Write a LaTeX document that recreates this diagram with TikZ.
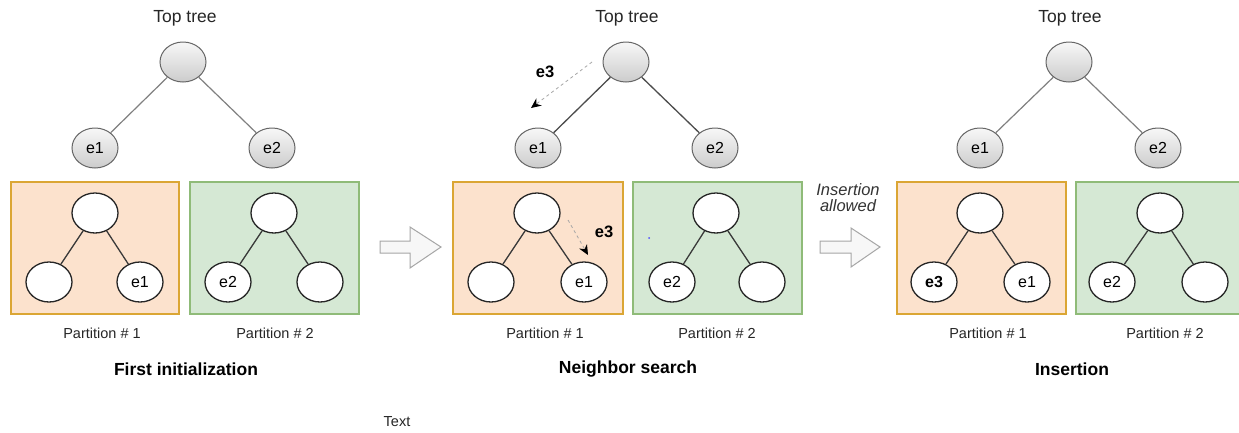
\documentclass[tikz,border=0pt]{standalone}
\usepackage{fontspec}
\setmainfont{Liberation Sans}
\usetikzlibrary{shapes.geometric,arrows.meta}
\definecolor{oFill}{HTML}{FCE2CD}
\definecolor{oLine}{HTML}{DBA634}
\definecolor{gFill}{HTML}{D5E8D4}
\definecolor{gLine}{HTML}{8FBB78}
\definecolor{tEdge}{HTML}{808080}
\definecolor{pEdge}{HTML}{3A3A3A}
\tikzset{
  topnode/.style={ellipse,minimum width=46pt,minimum height=40pt,inner sep=0pt,draw=gray!80!black,line width=1pt,top color=gray!6,bottom color=gray!40,font=\fontsize{16}{16}\selectfont},
  partnode/.style={ellipse,minimum width=46pt,minimum height=40pt,inner sep=0pt,draw=black!85,line width=1.3pt,fill=white,font=\fontsize{16}{16}\selectfont},
  tedge/.style={draw=tEdge,line width=1.2pt},
  pedge/.style={draw=pEdge,line width=1.3pt},
  obox/.style={draw=oLine,fill=oFill,line width=2.5pt},
  gbox/.style={draw=gLine,fill=gFill,line width=2.5pt},
  toplabel/.style={font=\fontsize{17.5}{17.5}\selectfont,text=black!85},
  partlabel/.style={font=\fontsize{14.5}{14.5}\selectfont,text=black!85},
  steptitle/.style={font=\fontsize{17.5}{17.5}\selectfont\bfseries},
  searcharrow/.style={draw=gray!70,dashed,line width=0.8pt,-{Stealth[length=10pt,width=9pt,black]}},
  e3label/.style={font=\fontsize{16.5}{16.5}\selectfont\bfseries},
  blockarrow/.style={draw=gray!70,fill=gray!6,line width=1pt,line join=miter},
}
\begin{document}
\begin{tikzpicture}[x=1pt,y=-1pt]
\clip (0,0) rectangle (1239,432);
\fill[white] (0,0) rectangle (1239,432);

% ---------- Panel 1 ----------
\node[toplabel] (tt1) at (185,18) {Top tree};
\node[topnode] (r1) at (183,62) {};
\node[topnode] (a1) at (95,148) {e1};
\node[topnode] (b1) at (272,148) {e2};
\draw[tedge] (r1) -- (a1);
\draw[tedge] (r1) -- (b1);
\draw[obox] (11,182) rectangle (179,314);
\draw[gbox] (190,182) rectangle (359,314);
\node[partnode] (p1r) at (95,213) {};
\node[partnode] (p1l) at (49,282) {};
\node[partnode] (p1b) at (140,282) {e1};
\draw[pedge] (p1r) -- (p1l);
\draw[pedge] (p1r) -- (p1b);
\node[partnode] (q1r) at (274,213) {};
\node[partnode] (q1l) at (228,282) {e2};
\node[partnode] (q1b) at (320,282) {};
\draw[pedge] (q1r) -- (q1l);
\draw[pedge] (q1r) -- (q1b);
\node[partlabel] (l11) at (102,333) {Partition \# 1};
\node[partlabel] (l12) at (275,333) {Partition \# 2};
\node[steptitle] (s1) at (186,369) {First initialization};

% ---------- Arrow 1 ----------
\draw[blockarrow] (380,241) -- (410,241) -- (410,227) -- (441,247) -- (410,268) -- (410,253) -- (380,253) -- cycle;

% ---------- Panel 2 ----------
\node[toplabel] (tt2) at (627,18) {Top tree};
\node[topnode] (r2) at (626,62) {};
\node[topnode] (a2) at (538,148) {e1};
\node[topnode] (b2) at (715,148) {e2};
\draw[pedge,draw=black!70] (r2) -- (a2);
\draw[pedge,draw=black!70] (r2) -- (b2);
\coordinate (d1s) at (592,62);
\coordinate (d1e) at (531,108);
\draw[searcharrow] (d1s) -- (d1e);
\node[e3label] (e3a) at (545,72) {e3};
\draw[obox] (453,182) rectangle (623,314);
\draw[gbox] (633,182) rectangle (802,314);
\node[partnode] (p2r) at (537,213) {};
\node[partnode] (p2l) at (491,282) {};
\node[partnode] (p2b) at (584,282) {e1};
\draw[pedge] (p2r) -- (p2l);
\draw[pedge] (p2r) -- (p2b);
\coordinate (d2s) at (568,220);
\coordinate (d2e) at (588,255);
\draw[searcharrow] (d2s) -- (d2e);
\node[e3label] (e3b) at (604,232) {e3};
\node[partnode] (q2r) at (716,213) {};
\node[partnode] (q2l) at (672,282) {e2};
\node[partnode] (q2b) at (762,282) {};
\draw[pedge] (q2r) -- (q2l);
\draw[pedge] (q2r) -- (q2b);
\fill[blue!70] (649,238) circle (1pt);
\node[partlabel] (l21) at (545,333) {Partition \# 1};
\node[partlabel] (l22) at (717,333) {Partition \# 2};
\node[steptitle] (s2) at (628,369) {Neighbor search};

% ---------- Arrow 2 ----------
\node[font=\fontsize{16.5}{16.5}\selectfont\itshape,text=black!80,align=center,inner sep=0pt] (allow) at (848,197.5) {Insertion\\[0pt]allowed};
\draw[blockarrow] (820,241) -- (851,241) -- (851,228) -- (880,247) -- (851,267) -- (851,253) -- (820,253) -- cycle;

% ---------- Panel 3 ----------
\node[toplabel] (tt3) at (1070,18) {Top tree};
\node[topnode] (r3) at (1069,62) {};
\node[topnode] (a3) at (980,148) {e1};
\node[topnode] (b3) at (1158,148) {e2};
\draw[tedge] (r3) -- (a3);
\draw[tedge] (r3) -- (b3);
\draw[obox] (897,182) rectangle (1066,314);
\draw[gbox] (1076,182) rectangle (1250,314);
\node[partnode] (p3r) at (980,213) {};
\node[partnode,font=\fontsize{16}{16}\selectfont\bfseries] (p3l) at (934,282) {e3};
\node[partnode] (p3b) at (1027,282) {e1};
\draw[pedge] (p3r) -- (p3l);
\draw[pedge] (p3r) -- (p3b);
\node[partnode] (q3r) at (1160,213) {};
\node[partnode] (q3l) at (1112,282) {e2};
\node[partnode] (q3b) at (1205,282) {};
\draw[pedge] (q3r) -- (q3l);
\draw[pedge] (q3r) -- (q3b);
\node[partlabel] (l31) at (988,333) {Partition \# 1};
\node[partlabel] (l32) at (1165,333) {Partition \# 2};
\node[steptitle] (s3) at (1072,369) {Insertion};

\node[partlabel] (txt) at (397,422) {Text};
\end{tikzpicture}
\end{document}
